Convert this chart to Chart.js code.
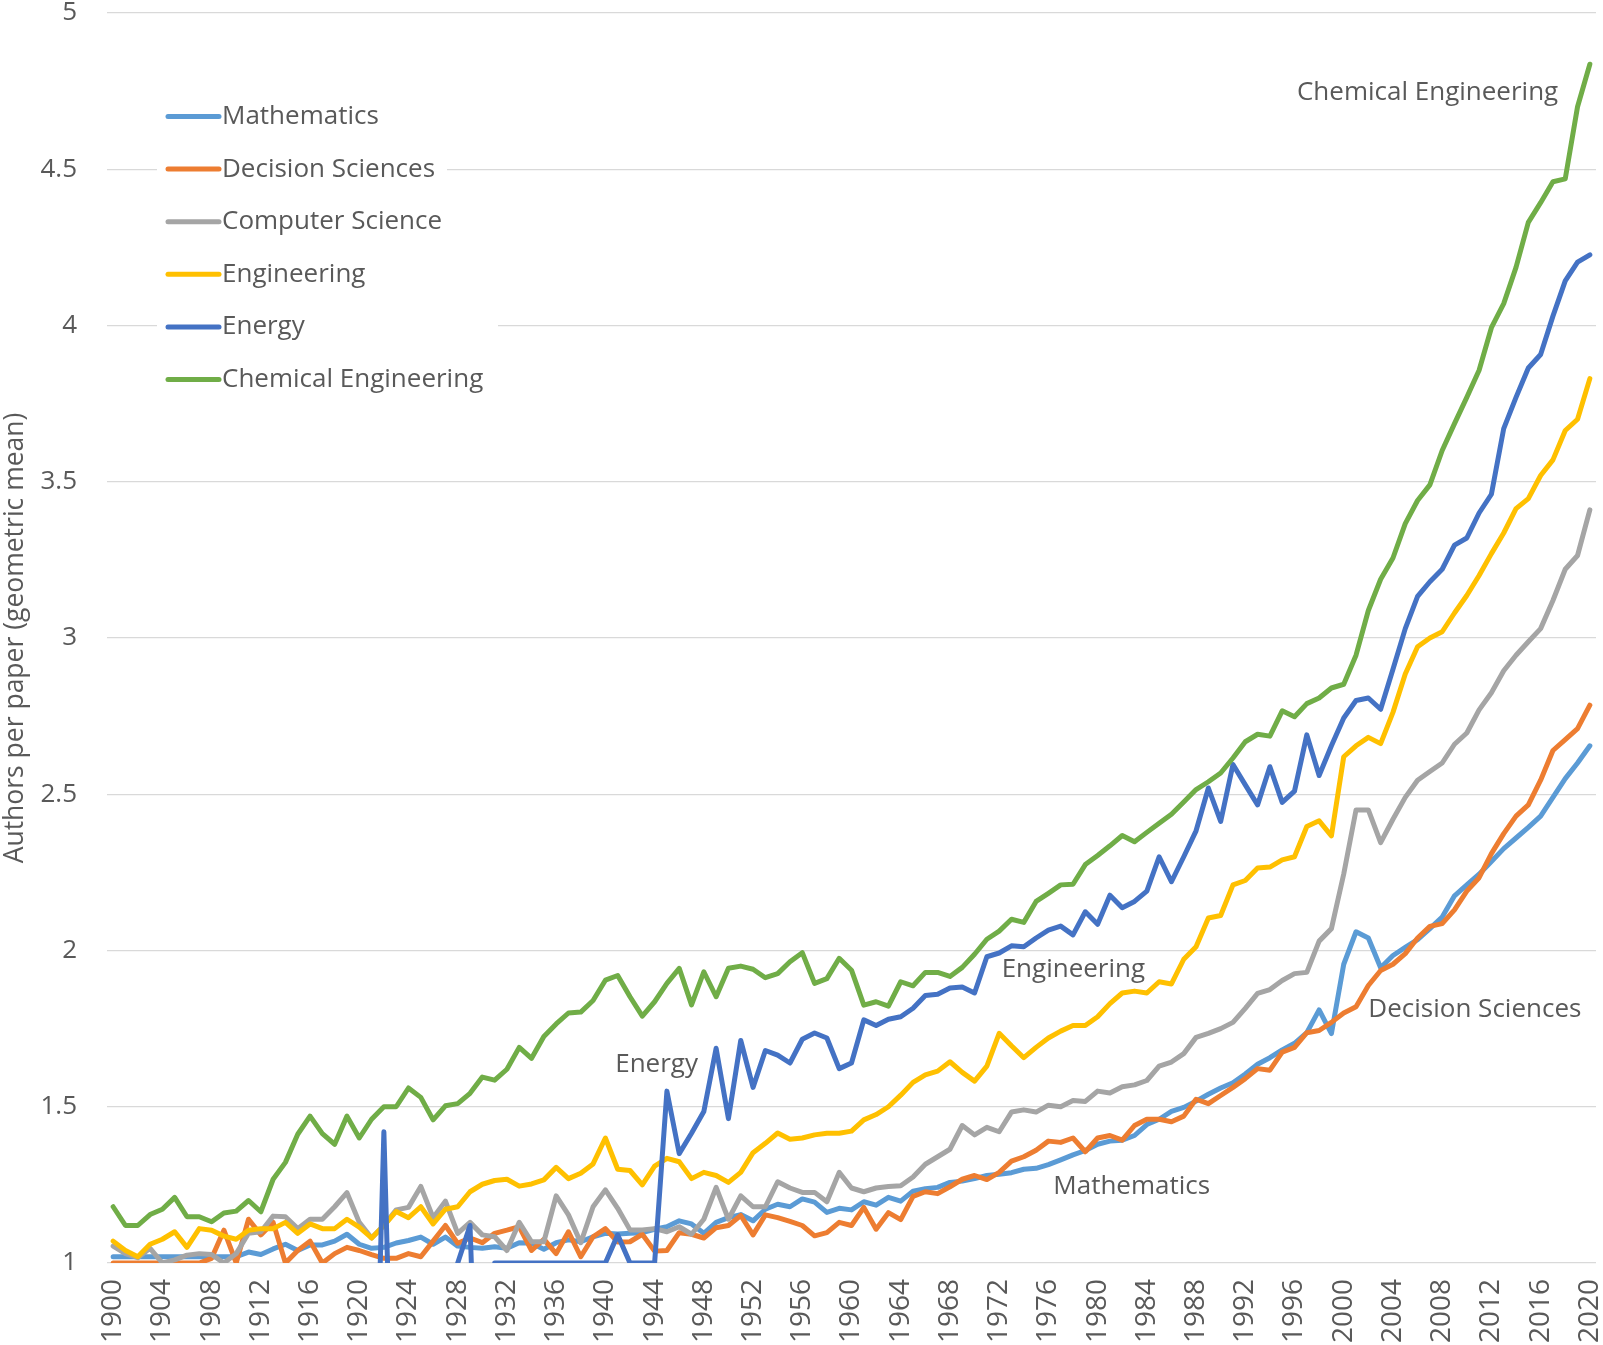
<!DOCTYPE html>
<html><head><meta charset="utf-8">
<script src="https://cdn.jsdelivr.net/npm/chart.js@4.4.1/dist/chart.umd.min.js"></script>
<style>html,body{margin:0;padding:0;background:#fff;}#wrap{width:1603px;height:1345px;}</style>
</head><body><div id="wrap"><canvas id="c" width="1603" height="1345"></canvas></div>
<script>
const years = ['1900','1901','1902','1903','1904','1905','1906','1907','1908','1909','1910',
'1911','1912','1913','1914','1915','1916','1917','1918','1919','1920',
'1921','1922','1923','1924','1925','1926','1927','1928','1929','1930',
'1931','1932','1933','1934','1935','1936','1937','1938','1939','1940',
'1941','1942','1943','1944','1945','1946','1947','1948','1949','1950',
'1951','1952','1953','1954','1955','1956','1957','1958','1959','1960',
'1961','1962','1963','1964','1965','1966','1967','1968','1969','1970',
'1971','1972','1973','1974','1975','1976','1977','1978','1979','1980',
'1981','1982','1983','1984','1985','1986','1987','1988','1989','1990',
'1991','1992','1993','1994','1995','1996','1997','1998','1999','2000',
'2001','2002','2003','2004','2005','2006','2007','2008','2009','2010',
'2011','2012','2013','2014','2015','2016','2017','2018','2019','2020'];

const mathematics = [1.02,1.02,1.02,1.02,1.02,1.02,1.02,1.02,1.02,1.02,1.02,
1.035,1.027,1.045,1.06,1.04,1.058,1.058,1.07,1.092,1.06,
1.047,1.05,1.064,1.072,1.083,1.06,1.083,1.054,1.05,1.047,
1.052,1.047,1.065,1.063,1.044,1.065,1.074,1.068,1.084,1.095,
1.093,1.095,1.097,1.108,1.116,1.135,1.125,1.095,1.13,1.145,
1.155,1.135,1.172,1.188,1.18,1.205,1.195,1.162,1.175,1.17,
1.196,1.185,1.21,1.198,1.23,1.238,1.242,1.258,1.262,1.27,
1.28,1.284,1.289,1.30,1.303,1.315,1.33,1.346,1.36,1.38,
1.39,1.393,1.408,1.443,1.46,1.485,1.498,1.518,1.54,1.56,
1.577,1.605,1.636,1.657,1.682,1.703,1.737,1.81,1.734,1.956,
2.06,2.04,1.945,1.984,2.01,2.035,2.07,2.107,2.175,2.21,
2.244,2.285,2.326,2.36,2.394,2.43,2.49,2.55,2.60,2.655];

const decisionSciences = [1.0,1.0,1.0,1.0,1.0,1.0,1.0,1.0,1.015,1.105,1.0,
1.14,1.09,1.13,1.0,1.04,1.07,1.0,1.03,1.05,1.04,
1.027,1.015,1.015,1.03,1.02,1.07,1.12,1.063,1.08,1.065,
1.095,1.105,1.116,1.04,1.076,1.03,1.10,1.02,1.084,1.11,
1.067,1.068,1.092,1.038,1.04,1.097,1.092,1.08,1.113,1.12,
1.152,1.09,1.154,1.145,1.133,1.12,1.087,1.097,1.13,1.12,
1.178,1.108,1.161,1.139,1.213,1.228,1.222,1.244,1.268,1.28,
1.267,1.29,1.326,1.34,1.361,1.39,1.386,1.40,1.356,1.40,
1.408,1.393,1.44,1.46,1.46,1.452,1.47,1.524,1.51,1.536,
1.562,1.59,1.622,1.617,1.675,1.69,1.737,1.744,1.77,1.80,
1.82,1.888,1.936,1.956,1.99,2.04,2.077,2.086,2.13,2.19,
2.233,2.31,2.374,2.43,2.466,2.545,2.64,2.675,2.71,2.785];

const computerScience = [1.054,1.03,1.017,1.047,1.0,1.01,1.025,1.03,1.027,1.0,1.03,
1.095,1.10,1.15,1.148,1.11,1.14,1.14,1.18,1.225,1.13,
1.08,1.12,1.17,1.178,1.245,1.145,1.198,1.095,1.13,1.09,
1.084,1.04,1.13,1.068,1.068,1.215,1.154,1.065,1.18,1.234,
1.175,1.106,1.106,1.11,1.10,1.116,1.092,1.14,1.242,1.14,
1.215,1.18,1.18,1.26,1.24,1.226,1.226,1.196,1.29,1.24,
1.228,1.24,1.245,1.247,1.275,1.316,1.34,1.364,1.44,1.41,
1.434,1.42,1.483,1.49,1.483,1.505,1.50,1.52,1.517,1.55,
1.544,1.564,1.57,1.584,1.63,1.643,1.67,1.722,1.735,1.75,
1.77,1.815,1.863,1.875,1.904,1.926,1.93,2.03,2.07,2.245,
2.45,2.45,2.345,2.42,2.49,2.545,2.573,2.60,2.66,2.696,
2.77,2.825,2.895,2.945,2.988,3.03,3.12,3.22,3.264,3.41];

const engineering = [1.07,1.04,1.02,1.06,1.076,1.10,1.05,1.11,1.105,1.086,1.076,
1.105,1.11,1.11,1.13,1.095,1.125,1.11,1.11,1.14,1.115,
1.08,1.12,1.165,1.145,1.18,1.125,1.172,1.18,1.228,1.252,
1.264,1.268,1.246,1.253,1.266,1.306,1.27,1.287,1.317,1.40,
1.30,1.296,1.25,1.31,1.335,1.324,1.27,1.29,1.28,1.258,
1.29,1.353,1.383,1.416,1.396,1.40,1.41,1.415,1.415,1.422,
1.458,1.475,1.50,1.537,1.578,1.602,1.614,1.644,1.61,1.582,
1.63,1.735,1.695,1.657,1.69,1.72,1.742,1.76,1.76,1.788,
1.83,1.864,1.87,1.864,1.90,1.893,1.972,2.012,2.104,2.112,
2.21,2.224,2.264,2.267,2.29,2.30,2.397,2.415,2.367,2.62,
2.655,2.682,2.662,2.762,2.885,2.972,3.0,3.02,3.08,3.136,
3.20,3.27,3.336,3.414,3.446,3.52,3.57,3.664,3.70,3.83];

const energy = [0,0,0,0,0,0,0,0,0,0,0,
0,0,0,0,0,0,0,0,0,0,
0,1.42,0,0,0,0,0,1.0,1.12,0,
1.0,1.0,1.0,1.0,1.0,1.0,1.0,1.0,1.0,1.0,
1.09,1.0,1.0,1.0,1.55,1.35,1.415,1.485,1.687,1.462,
1.712,1.562,1.68,1.665,1.64,1.716,1.736,1.72,1.622,1.64,
1.778,1.76,1.78,1.788,1.815,1.856,1.86,1.88,1.883,1.864,
1.98,1.992,2.015,2.012,2.04,2.065,2.078,2.05,2.124,2.084,
2.177,2.137,2.157,2.19,2.30,2.22,2.30,2.383,2.52,2.413,
2.595,2.53,2.466,2.588,2.474,2.51,2.69,2.56,2.655,2.744,
2.80,2.808,2.772,2.9,3.03,3.133,3.18,3.22,3.297,3.32,
3.40,3.46,3.67,3.77,3.864,3.907,4.03,4.143,4.203,4.226];

const chemicalEngineering = [1.18,1.12,1.12,1.155,1.172,1.21,1.148,1.148,1.132,1.16,1.166,
1.20,1.164,1.268,1.322,1.412,1.47,1.414,1.38,1.47,1.40,
1.46,1.50,1.50,1.56,1.53,1.458,1.503,1.51,1.543,1.595,
1.585,1.62,1.69,1.655,1.725,1.765,1.80,1.803,1.84,1.905,
1.92,1.852,1.79,1.836,1.895,1.943,1.826,1.932,1.852,1.943,
1.95,1.94,1.913,1.926,1.964,1.993,1.895,1.91,1.975,1.937,
1.825,1.836,1.822,1.90,1.887,1.93,1.93,1.917,1.946,1.988,
2.036,2.062,2.10,2.09,2.157,2.183,2.21,2.212,2.275,2.304,
2.335,2.368,2.348,2.378,2.407,2.436,2.475,2.515,2.54,2.568,
2.616,2.668,2.692,2.686,2.767,2.748,2.79,2.808,2.84,2.852,
2.945,3.088,3.188,3.256,3.366,3.44,3.49,3.60,3.686,3.77,
3.857,3.993,4.07,4.186,4.33,4.393,4.46,4.469,4.70,4.836];

const seriesNames = ['Mathematics','Decision Sciences','Computer Science','Engineering','Energy','Chemical Engineering'];
const seriesData = [mathematics, decisionSciences, computerScience, engineering, energy, chemicalEngineering];
const seriesColors = ['#5B9BD5','#ED7D31','#A5A5A5','#FFC000','#4472C4','#70AD47'];
const yTitle = 'Authors per paper (geometric mean)';

const FONT = '"Open Sans", sans-serif';
const TEXT = '#595959';

const labelPlugin = {
  id: 'labels',
  afterDatasetsDraw(chart) {
    const ctx = chart.ctx;
    const xs = chart.scales.x, ys = chart.scales.y;
    ctx.save();
    // legend box (masks gridlines behind it)
    ctx.fillStyle = '#ffffff';
    ctx.fillRect(157, 92, 290, 210);
    ctx.fillRect(157, 300, 341, 100);
    ctx.font = '26px ' + FONT;
    ctx.textBaseline = 'middle';
    ctx.textAlign = 'left';
    const rowY0 = 116.5, rowStep = 52.6;
    chart.data.datasets.forEach((ds, i) => {
      const y = rowY0 + i * rowStep;
      ctx.strokeStyle = ds.borderColor;
      ctx.lineWidth = 5;
      ctx.lineCap = 'round';
      ctx.beginPath(); ctx.moveTo(168, y); ctx.lineTo(219, y); ctx.stroke();
      ctx.fillStyle = TEXT;
      ctx.fillText(ds.label, 222, y);
    });
    // in-chart series labels, anchored in data coordinates
    const notes = [
      ['Chemical Engineering', 96.2, 4.745],
      ['Engineering', 72.2, 1.938],
      ['Energy', 40.8, 1.634],
      ['Decision Sciences', 102.0, 1.81],
      ['Mathematics', 76.4, 1.243]
    ];
    ctx.fillStyle = TEXT;
    notes.forEach(n => {
      ctx.fillText(n[0], xs.getPixelForValue(n[1]), ys.getPixelForValue(n[2]));
    });
    ctx.restore();
  }
};

new Chart(document.getElementById('c'), {
  type: 'line',
  data: {
    labels: years,
    datasets: seriesNames.map((name, i) => ({
      label: name,
      data: seriesData[i],
      borderColor: seriesColors[i],
      backgroundColor: seriesColors[i],
      borderWidth: 5,
      pointRadius: 0,
      tension: 0,
      fill: false,
      order: seriesNames.length - i,
      borderJoinStyle: 'round',
      borderCapStyle: 'round'
    }))
  },
  options: {
    responsive: false,
    animation: false,
    devicePixelRatio: 1,
    layout: { padding: { left: 0, right: 7, top: 13, bottom: 0 } },
    plugins: { legend: { display: false }, tooltip: { enabled: false } },
    scales: {
      x: {
        type: 'category',
        offset: true,
        grid: { display: false },
        border: { display: false },
        ticks: {
          autoSkip: false, maxRotation: 90, minRotation: 90, padding: 8,
          color: TEXT, font: { family: FONT, size: 28 },
          callback: (v, i) => (i % 4 === 0 ? years[i] : '')
        },
        afterFit: s => { s.height = 82; s.paddingLeft = 0; s.paddingRight = 0; }
      },
      y: {
        min: 1, max: 5,
        ticks: { stepSize: 0.5, padding: 30, color: TEXT, font: { family: FONT, size: 26 },
          callback: v => String(Math.round(v * 10) / 10) },
        grid: { color: '#D9D9D9', lineWidth: 1.3, drawTicks: false },
        border: { display: false },
        title: { display: true, text: yTitle, color: TEXT, font: { family: FONT, size: 26.5 }, padding: 0 },
        afterFit: s => { s.width = 107; s.paddingTop = 0; s.paddingBottom = 0; }
      }
    }
  },
  plugins: [labelPlugin]
});
</script>
</body></html>
